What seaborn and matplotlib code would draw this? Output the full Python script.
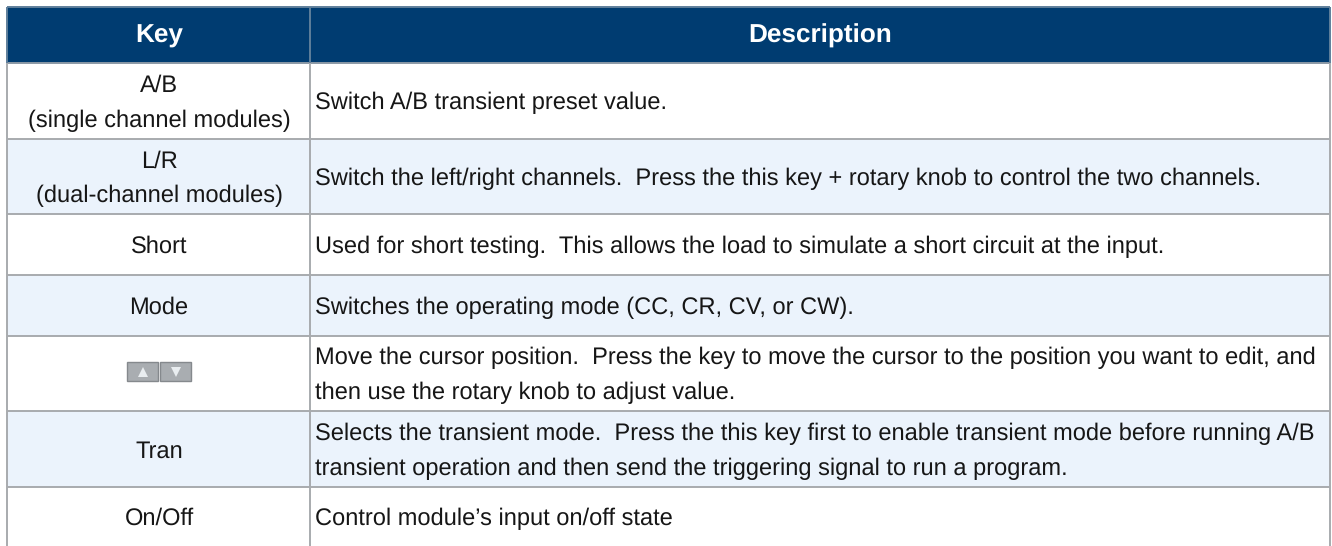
import numpy as np
import matplotlib
matplotlib.use("Agg")
import matplotlib.pyplot as plt
from matplotlib.colors import ListedColormap
from matplotlib.patches import Rectangle
import seaborn as sns

headers = ["Key", "Description"]
keys = ["A/B\n(single channel modules)", "L/R\n(dual-channel modules)", "Short", "Mode", "",
        "Tran", "On/Off"]
descriptions = [
    "Switch A/B transient preset value.",
    "Switch the left/right channels.  Press the this key + rotary knob to control the two channels.",
    "Used for short testing.  This allows the load to simulate a short circuit at the input.",
    "Switches the operating mode (CC, CR, CV, or CW).",
    "Move the cursor position.  Press the key to move the cursor to the position you want to edit, and\nthen use the rotary knob to adjust value.",
    "Selects the transient mode.  Press the this key first to enable transient mode before running A/B\ntransient operation and then send the triggering signal to run a program.",
    "Control module\u2019s input on/off state",
]
row_shade = [0, 1, 0, 1, 0, 1, 0]
row_edges = [63, 139, 214, 275, 336, 411, 487, 546]

W, H = 1332, 546
LEFT, MID, RIGHT, TOP = 7, 310, 1330, 7
LINE_H = 35

sns.set_theme(style="white")
plt.rcParams["font.family"] = ["Liberation Sans", "DejaVu Sans"]
plt.rcParams["text.hinting"] = "no_hinting"
plt.rcParams["text.hinting_factor"] = 8

# one heatmap cell per pixel so data coords are pixel coords
cells = np.zeros((H, W), dtype=int)
cells[TOP:row_edges[0], LEFT:RIGHT] = 2
for i, shade in enumerate(row_shade):
    cells[row_edges[i]:row_edges[i + 1], LEFT:RIGHT] = shade

fig = plt.figure(figsize=(W / 100, H / 100), dpi=100)
ax = fig.add_axes([0, 0, 1, 1])
sns.heatmap(cells, ax=ax, cmap=ListedColormap(["#ffffff", "#ebf3fc", "#003c71"]), vmin=0, vmax=2,
            cbar=False, xticklabels=False, yticklabels=False)
ax.set_xlim(0, W)
ax.set_ylim(H, 0)

grid = "#a8abae"
head_line = "#5f7f9b"
ax.hlines(row_edges[1:-1], LEFT, RIGHT, color=grid, lw=1.4)
ax.hlines(row_edges[0], LEFT, RIGHT, color="#8b99a6", lw=1.4)
ax.hlines(TOP, LEFT, RIGHT, color=head_line, lw=1.4)
ax.vlines([LEFT, MID, RIGHT], row_edges[0], H, color=grid, lw=1.4)
ax.vlines([LEFT, MID, RIGHT], TOP, row_edges[0], color=head_line, lw=1.4)

ax.text(159, 43, headers[0], color="white", fontsize=18.8, fontweight="bold", ha="center", va="baseline")
ax.text(820, 43, headers[1], color="white", fontsize=18.8, fontweight="bold", ha="center", va="baseline")


def put_lines(x, yc, s, ha):
    lines = s.split("\n")
    for j, line in enumerate(lines):
        y = yc + 8.5 + (j - (len(lines) - 1) / 2) * LINE_H
        ax.text(x, y, line, color="#161616", fontsize=17.03, ha=ha, va="baseline")


for i in range(len(keys)):
    yc = (row_edges[i] + row_edges[i + 1]) / 2
    put_lines(159, yc, keys[i], "center")
    put_lines(315, yc, descriptions[i], "left")

# up/down key buttons
for x0, marker in [(127, "^"), (159.5, "v")]:
    ax.add_patch(Rectangle((x0, 362), 31, 19, fc="#a9adb1", ec="#85898d", lw=1))
    ax.plot(x0 + 16, 371.5, marker=marker, ms=7, color="#e9edf0", mew=0)

ax.axis("off")
fig.savefig("out.png", dpi=100)
plt.close(fig)
